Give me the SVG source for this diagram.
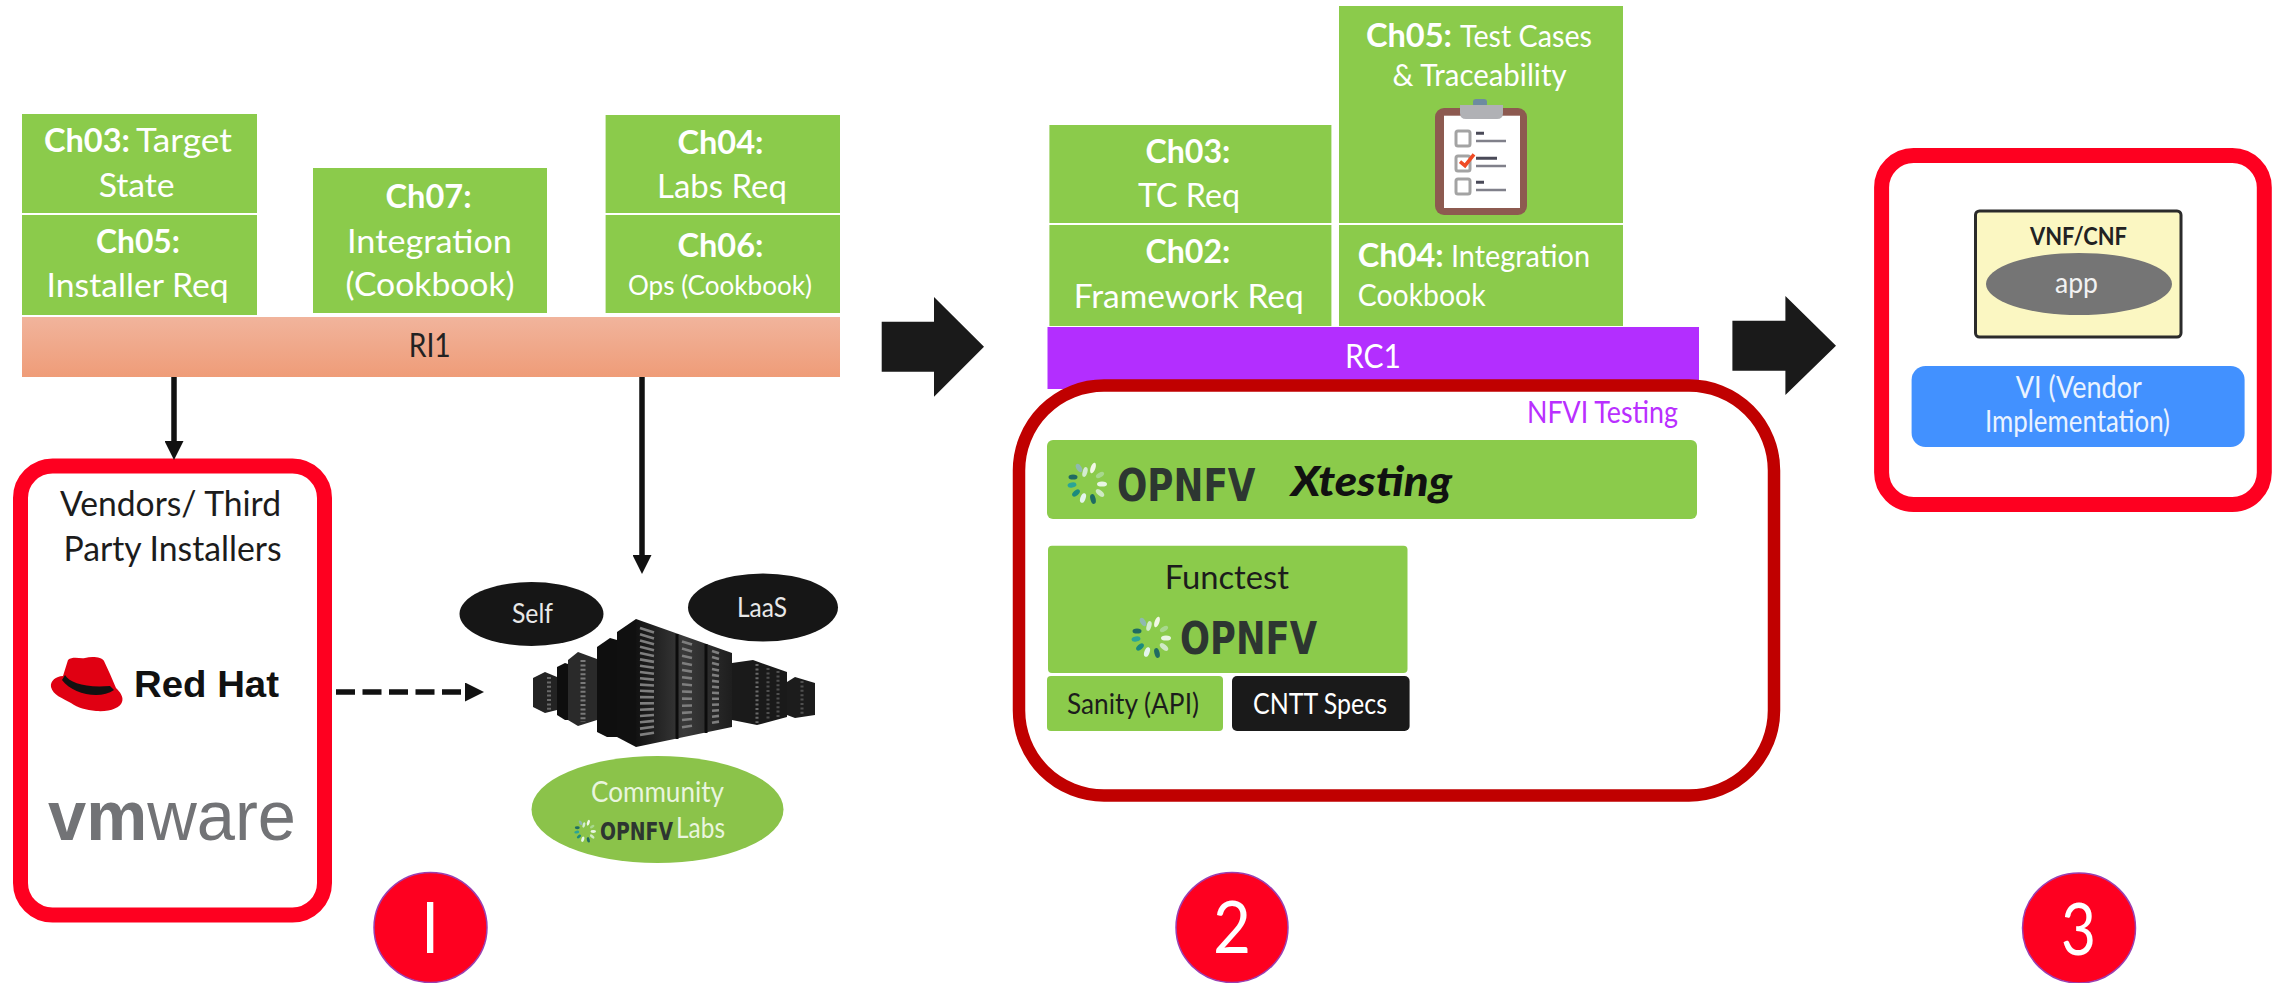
<svg xmlns="http://www.w3.org/2000/svg" xmlns:xlink="http://www.w3.org/1999/xlink" width="2277" height="983" viewBox="0 0 2277 983">
<style>
text{font-family:"Lato","Carlito","Liberation Sans",sans-serif}
.g{fill:#8bcb4b}
.w{fill:#fff;font-size:33px}
.s{fill:#fff;font-size:30px}
.b{font-weight:700}
.k{fill:#1c1c1c}
.opn{font-family:"DejaVu Sans","Liberation Sans",sans-serif;font-weight:700;fill:#2d3631}
.red{fill:none;stroke:#fe0020;stroke-width:15}
.num{fill:#fe0020;stroke:#9a3fb0;stroke-width:1.5}
.numt{fill:#fff;font-size:72px;font-weight:400}
.conn{fill:none;stroke:#111;stroke-width:5.5}
.slat{fill:none;stroke:#7e7e7e;stroke-width:2.6}
</style>
<defs>
<linearGradient id="ri" x1="0" y1="0" x2="0" y2="1"><stop offset="0" stop-color="#f1b49c"/><stop offset="1" stop-color="#ef9c78"/></linearGradient>
<linearGradient id="rk" x1="0" y1="0" x2="1" y2="0"><stop offset="0" stop-color="#121212"/><stop offset=".5" stop-color="#3a3a3a"/><stop offset="1" stop-color="#1e1e1e"/></linearGradient>
<marker id="ah" markerUnits="userSpaceOnUse" markerWidth="19" markerHeight="19" refX="0" refY="9.5" orient="auto"><path d="M0 0L19 9.5L0 19Z" fill="#111"/></marker>
<g id="star">
<ellipse cx="-14" cy="-6" rx="4.5" ry="2.6" fill="#1f6b62"/>
<ellipse cx="-15" cy="2" rx="4.5" ry="2.6" fill="#2aa597" transform="rotate(-10 -15 2)"/>
<ellipse cx="-11" cy="10" rx="4.5" ry="2.6" fill="#1b8a7d" transform="rotate(-40 -11 10)"/>
<ellipse cx="-4" cy="15" rx="2.6" ry="5" fill="#e4f5ec" transform="rotate(20 -4 15)"/>
<ellipse cx="6" cy="16" rx="2.6" ry="5" fill="#1f6b62" transform="rotate(-15 6 16)"/>
<ellipse cx="13" cy="10" rx="5" ry="2.6" fill="#cfe9c4" transform="rotate(40 13 10)"/>
<ellipse cx="15" cy="1" rx="5" ry="2.6" fill="#e9f6e3"/>
<ellipse cx="13" cy="-8" rx="4.5" ry="2.4" fill="#a8d88e" transform="rotate(-30 13 -8)"/>
<ellipse cx="6" cy="-15" rx="2.4" ry="5.5" fill="#f2f8e6" transform="rotate(20 6 -15)"/>
<ellipse cx="-2" cy="-11" rx="2.4" ry="5" fill="#d4ecd0" transform="rotate(15 -2 -11)"/>
<ellipse cx="-8" cy="-15" rx="2.6" ry="4.5" fill="#8fb9b0" transform="rotate(-30 -8 -15)"/>
</g>
</defs>
<rect width="2277" height="983" fill="#fff"/>

<g id="ch03-ri"><rect class="g" x="22" y="114" width="235" height="99"/><text class="w" y="152"><tspan class="b" x="44" textLength="86" lengthAdjust="spacingAndGlyphs">Ch03:</tspan><tspan x="136" textLength="96" lengthAdjust="spacingAndGlyphs">Target</tspan></text><text class="w" x="98.7" y="197" textLength="76" lengthAdjust="spacingAndGlyphs">State</text></g>
<g id="ch05-ri"><rect class="g" x="22" y="215" width="235" height="100"/><text class="w b" x="96" y="253" textLength="84" lengthAdjust="spacingAndGlyphs">Ch05:</text><text class="w" x="46.6" y="297" textLength="182" lengthAdjust="spacingAndGlyphs">Installer Req</text></g>
<g id="ch07-ri"><rect class="g" x="313" y="168" width="234" height="145"/><text class="w b" x="385.6" y="208" textLength="86" lengthAdjust="spacingAndGlyphs">Ch07:</text><text class="w" x="347" y="253" textLength="165" lengthAdjust="spacingAndGlyphs">Integration</text><text class="w" x="345.6" y="296" textLength="169" lengthAdjust="spacingAndGlyphs">(Cookbook)</text></g>
<g id="ch04-ri"><rect class="g" x="605.6" y="115" width="234.4" height="98"/><text class="w b" x="677.5" y="154" textLength="86" lengthAdjust="spacingAndGlyphs">Ch04:</text><text class="w" x="657" y="198" textLength="130" lengthAdjust="spacingAndGlyphs">Labs Req</text></g>
<g id="ch06-ri"><rect class="g" x="605.6" y="215" width="234.4" height="98"/><text class="w b" x="677.5" y="257" textLength="86" lengthAdjust="spacingAndGlyphs">Ch06:</text><text class="w" style="font-size:27px" x="628" y="295" textLength="184" lengthAdjust="spacingAndGlyphs">Ops (Cookbook)</text></g>
<g id="ri1"><rect x="22" y="317" width="818" height="60" fill="url(#ri)"/><text x="408.7" y="357" font-size="33" fill="#222" textLength="42" lengthAdjust="spacingAndGlyphs">RI1</text></g>

<g id="vendors"><rect class="red" x="20.5" y="466" width="304" height="449" rx="32"/>
<text class="k" font-size="34" x="60" y="516" textLength="221" lengthAdjust="spacingAndGlyphs">Vendors/ Third</text>
<text class="k" font-size="34" x="63.5" y="561" textLength="218" lengthAdjust="spacingAndGlyphs">Party Installers</text>
<path d="M68 660C73 656 80 659 85 658C92 656 102 657 104 661L110 674L116 688C120 692 124 697 122 702C120 708 110 712 96 711C86 710 78 708 71 703C62 698 53 695 51 687C50 681 56 676 63 676Z" fill="#e00012"/>
<path d="M65 675C70 683 85 688 110 686L114 690C100 700 72 694 62 680Z" fill="#111"/>
<text x="134" y="696.5" font-size="36" fill="#111" textLength="145" lengthAdjust="spacingAndGlyphs" style="font-family:'Liberation Sans',sans-serif;font-weight:700">Red Hat</text>
<text x="48" y="839.5" font-size="70" fill="#727376" textLength="248" lengthAdjust="spacingAndGlyphs" style="font-family:'Liberation Sans',sans-serif"><tspan font-weight="700">vm</tspan>ware</text></g>

<g id="self"><ellipse cx="531.5" cy="614" rx="72" ry="32" fill="#161616"/><text x="512" y="623" font-size="27" fill="#e8e8e8" textLength="41" lengthAdjust="spacingAndGlyphs">Self</text></g>
<g id="laas"><ellipse cx="763" cy="607.5" rx="75" ry="34" fill="#161616"/><text x="737" y="617" font-size="27" fill="#e8e8e8" textLength="50" lengthAdjust="spacingAndGlyphs">LaaS</text></g>

<g id="servers">
<polygon points="533,678 545,672 557,677 557,710 545,713 533,707" fill="#232323"/>
<polygon points="557,667 565,663 568,664 568,720 565,720 557,715" fill="#0e0e0e"/>
<polygon points="568,660 578,652 597,659 597,720 578,726 568,720" fill="#2a2a2a"/>
<polygon points="597,647 610,638 617,640 617,737 607,737 597,732" fill="#0f0f0f"/>
<polygon points="732,663 753,660 787,672 787,717 757,725 732,720" fill="#1a1a1a"/>
<polygon points="787,682 795,677 815,683 815,715 795,718 787,715" fill="#1c1c1c"/>
<polygon points="617,632 636,619 636,747 617,737" fill="#101010"/>
<polygon points="636,619 732,653 732,727 636,747" fill="url(#rk)"/>
<path d="M677 634V739M706 644V733" stroke="#0c0c0c" stroke-width="3" fill="none"/>
<path class="slat" d="M640 627.9L654 632.5M640 634.2L654 638.4M640 640.5L654 644.3M640 646.8L654 650.2M640 653.1L654 656.1M640 659.4L654 661.9M640 665.7L654 667.8M640 672L654 673.7M640 678.3L654 679.6M640 684.6L654 685.5M640 690.8L654 691.4M640 697.1L654 697.3M640 703.4L654 703.2M640 709.7L654 709.1M640 716L654 715M640 722.3L654 720.9M640 728.6L654 726.8M640 734.9L654 732.7"/>
<path class="slat" d="M682 641.4L692 644.6M682 648.6L692 651.4M682 655.7L692 658.1M682 662.9L692 664.9M682 670L692 671.6M682 677.2L692 678.4M682 684.3L692 685.2M682 691.5L692 691.9M682 698.6L692 698.7M682 705.8L692 705.5M682 712.9L692 712.2M682 720L692 719M682 727.2L692 725.7"/>
<path class="slat" d="M712 651L719 653.3M712 657L719 659M712 663L719 664.7M712 669L719 670.4M712 674.9L719 676M712 680.9L719 681.7M712 686.8L719 687.4M712 692.8L719 693.1M712 698.8L719 698.8M712 704.8L719 704.5M712 710.7L719 710.2M712 716.7L719 715.9M712 722.7L719 721.6"/>
<line x1="583" y1="660" x2="583" y2="722" stroke="#7a7a7a" stroke-width="5" stroke-dasharray="2 2.4"/>
<line x1="549" y1="677" x2="549" y2="710" stroke="#6a6a6a" stroke-width="4" stroke-dasharray="2 2.4"/>
<line x1="757" y1="664" x2="757" y2="723" stroke="#6a6a6a" stroke-width="3" stroke-dasharray="2 2.4"/>
<line x1="768" y1="668" x2="768" y2="720" stroke="#505050" stroke-width="3" stroke-dasharray="2 2.4"/>
<line x1="778" y1="671" x2="778" y2="718" stroke="#505050" stroke-width="3" stroke-dasharray="2 2.4"/>
<line x1="802" y1="681" x2="802" y2="716" stroke="#505050" stroke-width="3" stroke-dasharray="2 2.4"/>
</g>

<g id="community"><ellipse cx="657.5" cy="809.5" rx="126" ry="53.5" fill="#8bc34a"/>
<text x="591" y="802" font-size="28" fill="#e9f5de" textLength="133" lengthAdjust="spacingAndGlyphs">Community</text>
<use xlink:href="#star" href="#star" transform="translate(585 831) scale(.55)"/>
<text class="opn" x="600" y="839.5" font-size="25" textLength="73" lengthAdjust="spacingAndGlyphs">OPNFV</text>
<text x="676" y="838" font-size="28" fill="#e9f5de" textLength="49" lengthAdjust="spacingAndGlyphs">Labs</text></g>

<g id="ch03-rc"><rect class="g" x="1049.4" y="125" width="282" height="98"/><text class="w b" x="1145.4" y="163" textLength="85" lengthAdjust="spacingAndGlyphs">Ch03:</text><text class="w" x="1138" y="207" textLength="102" lengthAdjust="spacingAndGlyphs">TC Req</text></g>
<g id="ch02-rc"><rect class="g" x="1049.4" y="225" width="282" height="101"/><text class="w b" x="1145.4" y="263" textLength="85" lengthAdjust="spacingAndGlyphs">Ch02:</text><text class="w" x="1073.7" y="308" textLength="230" lengthAdjust="spacingAndGlyphs">Framework Req</text></g>
<g id="ch05-rc"><rect class="g" x="1339" y="6" width="284" height="217"/>
<text class="w" y="47"><tspan class="b" x="1366" textLength="86" lengthAdjust="spacingAndGlyphs">Ch05:</tspan><tspan style="font-size:30px" x="1460" textLength="132" lengthAdjust="spacingAndGlyphs">Test Cases</tspan></text>
<text class="s" x="1392.6" y="86" textLength="174" lengthAdjust="spacingAndGlyphs">&amp; Traceability</text>
<rect x="1435" y="108" width="92" height="107" rx="9" fill="#8d5a50"/>
<rect x="1444" y="115.7" width="76" height="92.3" fill="#fff"/>
<rect x="1473" y="99" width="14" height="8" rx="3" fill="#6d8ba0"/>
<path d="M1460 105H1503V113Q1503 119 1497 119H1466Q1460 119 1460 113Z" fill="#b0b1b5"/>
<g fill="#fff" stroke="#a3a3a3" stroke-width="3"><rect x="1456" y="131" width="14" height="15" rx="2"/><rect x="1456" y="156" width="14" height="15" rx="2"/><rect x="1456" y="179" width="14" height="15" rx="2"/></g>
<path d="M1476 133.3H1484M1476 158.3H1497M1476 182.3H1484" stroke="#4a4a58" stroke-width="3"/>
<path d="M1476 141H1506M1476 166H1506M1476 190H1506" stroke="#80808a" stroke-width="2.5"/>
<path d="M1460 161.7L1465 165.7L1474 154.3" fill="none" stroke="#f04a24" stroke-width="3.5"/></g>
<g id="ch04-rc"><rect class="g" x="1339" y="225" width="284" height="101"/><text class="s" y="267"><tspan class="b" style="font-size:33px" x="1357.7" textLength="86" lengthAdjust="spacingAndGlyphs">Ch04:</tspan><tspan x="1451" textLength="139" lengthAdjust="spacingAndGlyphs">Integration</tspan></text><text class="s" x="1357.7" y="306" textLength="128" lengthAdjust="spacingAndGlyphs">Cookbook</text></g>
<g id="rc1"><rect x="1047.5" y="327" width="651.5" height="62" fill="#b32eff"/><text x="1345" y="368" font-size="33" fill="#fff" textLength="56" lengthAdjust="spacingAndGlyphs">RC1</text></g>

<g id="nfvi"><rect x="1019" y="385.5" width="755" height="410" rx="85" fill="#fff" stroke="#c00000" stroke-width="12.5"/>
<text x="1527" y="423" font-size="30" font-weight="400" fill="#b92fff" textLength="151" lengthAdjust="spacingAndGlyphs">NFVI Testing</text></g>
<g id="xtesting"><rect class="g" x="1047" y="440" width="650" height="79" rx="6"/><use xlink:href="#star" href="#star" transform="translate(1087 483)"/><text class="opn" x="1117" y="500.7" font-size="44" textLength="138.5" lengthAdjust="spacingAndGlyphs">OPNFV</text><text x="1291" y="496" font-size="41" font-weight="900" font-style="italic" fill="#111" textLength="161" lengthAdjust="spacingAndGlyphs">Xtesting</text></g>
<g id="functest"><rect class="g" x="1048" y="545.7" width="359.5" height="127.3" rx="4"/><text class="k" x="1164.7" y="589" font-size="33" textLength="124.3" lengthAdjust="spacingAndGlyphs">Functest</text><use xlink:href="#star" href="#star" transform="translate(1151 637)"/><text class="opn" x="1180" y="654" font-size="44" textLength="137" lengthAdjust="spacingAndGlyphs">OPNFV</text></g>
<g id="sanity"><rect class="g" x="1047" y="676" width="176" height="55" rx="4"/><text class="k" x="1067" y="714" font-size="28" textLength="132" lengthAdjust="spacingAndGlyphs">Sanity (API)</text></g>
<g id="cntt"><rect x="1232" y="676" width="177.6" height="55" rx="5" fill="#1a1a1a"/><text x="1253" y="714" font-size="28" fill="#fff" textLength="134" lengthAdjust="spacingAndGlyphs">CNTT Specs</text></g>

<g id="vi-box"><rect class="red" x="1881.6" y="155.5" width="382.7" height="349" rx="32"/></g>
<g id="vnf"><rect x="1975.5" y="211" width="205.5" height="126" rx="4" fill="#fbf7c2" stroke="#2b2b2b" stroke-width="3"/><text x="2030" y="245" font-size="25" font-weight="700" fill="#222" textLength="97" lengthAdjust="spacingAndGlyphs">VNF/CNF</text><ellipse cx="2079" cy="284" rx="93" ry="31" fill="#757575"/><text x="2055" y="293" font-size="29" font-weight="400" fill="#f2f2f2" textLength="43" lengthAdjust="spacingAndGlyphs">app</text></g>
<g id="vi"><rect x="1911.6" y="366" width="333" height="81" rx="14" fill="#4291ff"/><text x="2015.8" y="398" font-size="30" font-weight="400" fill="#eaf3ff" textLength="126" lengthAdjust="spacingAndGlyphs">VI (Vendor</text><text x="1985" y="432" font-size="30" font-weight="400" fill="#eaf3ff" textLength="185" lengthAdjust="spacingAndGlyphs">Implementation)</text></g>

<g id="badge-1"><ellipse class="num" cx="430.5" cy="927.5" rx="56.5" ry="55"/><rect x="427" y="902" width="6.3" height="51" fill="#fff"/></g>
<g id="badge-2"><ellipse class="num" cx="1232" cy="927.5" rx="56" ry="55"/><text class="numt" x="1213" y="953" textLength="38" lengthAdjust="spacingAndGlyphs">2</text></g>
<g id="badge-3"><ellipse class="num" cx="2079" cy="928" rx="56.5" ry="55"/><text class="numt" x="2061" y="954.5" textLength="35" lengthAdjust="spacingAndGlyphs">3</text></g>

<g id="connectors">
<line class="conn" x1="174" y1="377" x2="174" y2="441" marker-end="url(#ah)"/>
<line class="conn" x1="642" y1="377" x2="642" y2="555" marker-end="url(#ah)"/>
<line class="conn" x1="336" y1="692" x2="465" y2="692" stroke-width="6.5" stroke-dasharray="19 7.5" marker-end="url(#ah)"/>
<polygon points="881.7,321.7 934,321.7 934,297 984,346.7 934,396.7 934,371.7 881.7,371.7" fill="#1a1a1a"/>
<polygon points="1732.4,320.7 1785.4,320.7 1785.4,296 1836,345.7 1785.4,395 1785.4,370.7 1732.4,370.7" fill="#1a1a1a"/>
</g>
</svg>
